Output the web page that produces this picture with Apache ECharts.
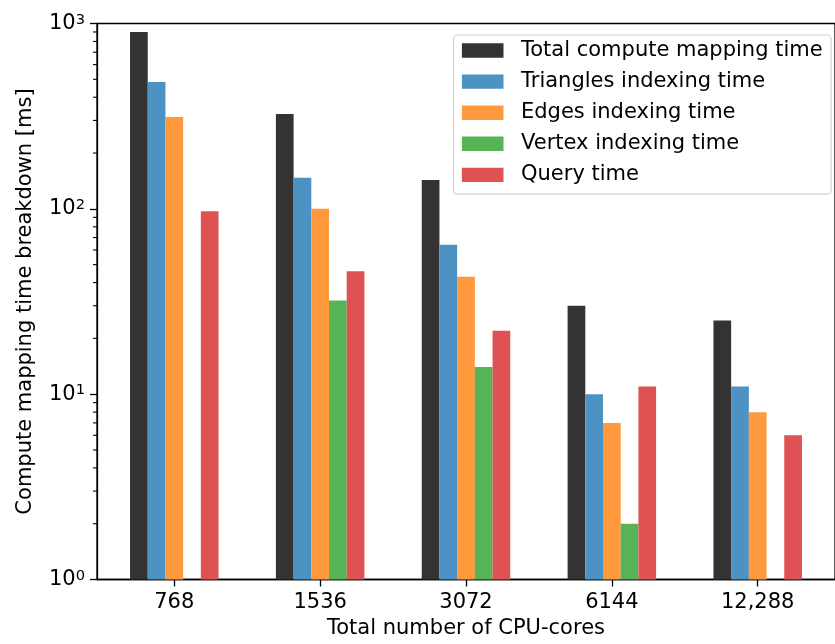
<!DOCTYPE html>
<html>
<head>
<meta charset="utf-8">
<script src="https://cdn.jsdelivr.net/npm/echarts@6/dist/echarts.min.js"></script>
<style>html,body{margin:0;padding:0;background:#fff}#c{width:835px;height:644px}</style>
</head>
<body>
<div id="c"></div>
<script>
const categories = ['768', '1536', '3072', '6144', '12,288'];
const seriesNames = ['Total compute mapping time', 'Triangles indexing time', 'Edges indexing time', 'Vertex indexing time', 'Query time'];
const totalTime = [900, 325, 143, 30, 25];
const trianglesTime = [484, 147, 64, 10, 11];
const edgesTime = [313, 100, 43, 7, 8];
const vertexTime = [null, 32, 14, 2, null];
const queryTime = [97, 46, 22, 11, 6];
const minorTickValues = [2,3,4,5,6,7,8,9,20,30,40,50,60,70,80,90,200,300,400,500,600,700,800,900];
const colors = ['#333333', '#4c92c3', '#ff993e', '#56b356', '#de5253'];

const FONT = 'DejaVu Sans';
const FS = 21;
const allValues = [totalTime, trianglesTime, edgesTime, vertexTime, queryTime];
const catIdx = categories.map((c, i) => i);

const series = allValues.map((vals, i) => ({
  name: seriesNames[i],
  type: 'bar',
  data: vals.map((v, j) => [catIdx[j], v == null ? null : v]),
  barWidth: 17.7,
  barGap: '0%',
  itemStyle: { color: colors[i] },
  z: 2
}));

series.push({
  type: 'custom',
  silent: true,
  clip: false,
  encode: { x: 0, y: 1 },
  data: minorTickValues.map(v => [0, v]),
  renderItem: function (params, api) {
    const y = api.coord([0, api.value(1)])[1];
    const x = params.coordSys.x;
    return {
      type: 'line',
      shape: { x1: x - 4, y1: y, x2: x, y2: y },
      style: { stroke: '#000', lineWidth: 1.1 }
    };
  },
  z: 5
});

const chart = echarts.init(document.getElementById('c'), null, { renderer: 'canvas' });
chart.setOption({
  animation: false,
  backgroundColor: '#fff',
  textStyle: { fontFamily: FONT },
  grid: {
    left: 97, right: -8, top: 23.5, bottom: 64.5,
    show: true, borderColor: '#000', borderWidth: 1.3, backgroundColor: 'transparent'
  },
  legend: {
    orient: 'vertical',
    left: 453.5, top: 35,
    padding: [4.5, 8.5, 8.3, 8.4],
    itemWidth: 41.6, itemHeight: 14.4,
    itemGap: 9.1,
    backgroundColor: 'rgba(255,255,255,0.8)',
    borderColor: '#d4d4d4', borderWidth: 1.2, borderRadius: 4,
    textStyle: { fontFamily: FONT, fontSize: FS, color: '#000', lineHeight: 22, padding: [0, 0, 0, 12.5] },
    data: seriesNames.map(n => ({ name: n, icon: 'rect' }))
  },
  xAxis: {
    type: 'value',
    min: -0.53, max: 4.53,
    name: 'Total number of CPU-cores',
    nameLocation: 'middle',
    nameGap: 33,
    nameTextStyle: { fontFamily: FONT, fontSize: FS, color: '#000' },
    axisLine: { onZero: false, lineStyle: { color: '#000', width: 1.3 } },
    axisTick: { show: true, length: 7, customValues: catIdx, lineStyle: { color: '#000', width: 1.3 } },
    axisLabel: {
      fontFamily: FONT, fontSize: FS, color: '#000', margin: 12.5,
      customValues: catIdx,
      formatter: function (v) { return categories[Math.round(v)] || ''; }
    },
    splitLine: { show: false }
  },
  yAxis: {
    type: 'log',
    logBase: 10,
    min: 1, max: 1000,
    name: 'Compute mapping time breakdown [ms]',
    nameLocation: 'middle',
    nameGap: 61,
    nameTextStyle: { fontFamily: FONT, fontSize: FS, color: '#000' },
    axisLine: { show: true, onZero: false, lineStyle: { color: '#000', width: 1.3 } },
    axisTick: { show: true, length: 7, lineStyle: { color: '#000', width: 1.3 } },
    axisLabel: {
      fontFamily: FONT, color: '#000', margin: 12,
      formatter: function (v) {
        const e = Math.round(Math.log10(v));
        return '{b|10}{s|' + e + '}';
      },
      rich: {
        b: { fontFamily: FONT, fontSize: FS, color: '#000', lineHeight: 22 },
        s: { fontFamily: FONT, fontSize: 14.7, color: '#000', verticalAlign: 'top', lineHeight: 15 }
      }
    },
    splitLine: { show: false }
  },
  series: series
});
</script>
</body>
</html>
